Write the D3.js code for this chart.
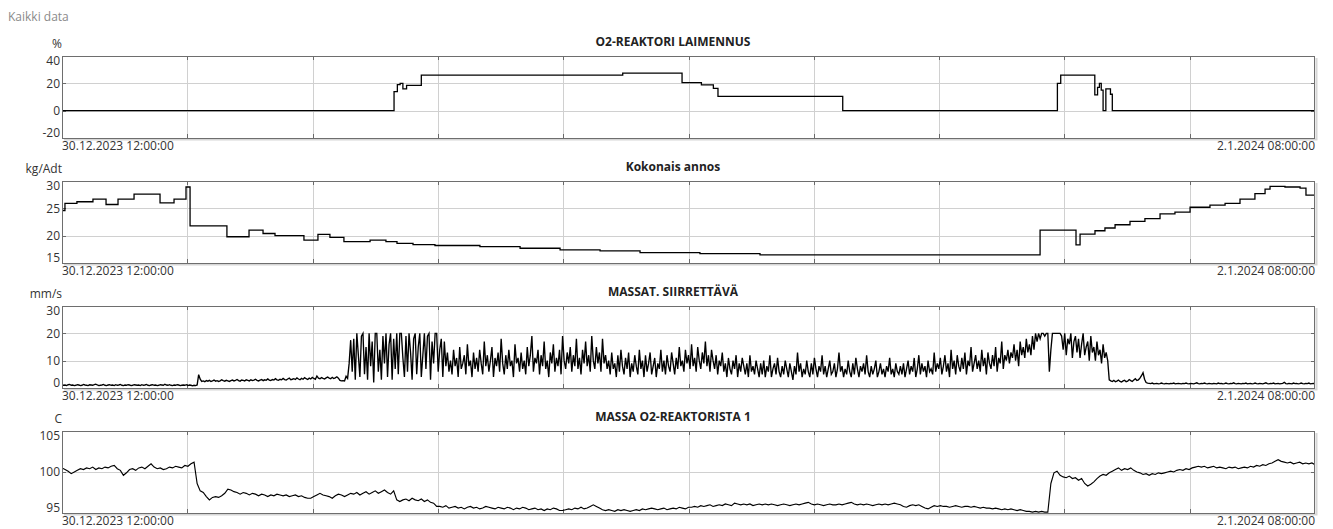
<!DOCTYPE html>
<html>
<head>
<meta charset="utf-8">
<script src="https://cdn.jsdelivr.net/npm/d3@7"></script>
<style>
  html, body { margin: 0; padding: 0; background: #fff; }
  svg { display: block; font-family: "Open Sans", "Noto Sans", sans-serif; }
</style>
</head>
<body>
<svg id="chart" width="1333" height="529"></svg>
<script>
// Time span shown by every panel
const startTime = new Date(2023, 11, 30, 12, 0, 0);
const endTime = new Date(2024, 0, 2, 8, 0, 0);
const gridDivisions = 10;

// Panel titles and units
const titles = ["O2-REAKTORI LAIMENNUS", "Kokonais annos", "MASSAT. SIIRRETTÄVÄ", "MASSA O2-REAKTORISTA 1"];
const units = ["%", "kg/Adt", "mm/s", "C"];

// Y axis ranges and tick labels
const yDomains = [[-20, 40], [15, 30], [0, 30], [95, 105]];
const yTicks = [[-20, 0, 20, 40], [15, 20, 25, 30], [0, 10, 20, 30], [95, 100, 105]];

// O2-reaktori laimennus (%), step changes: [hours from start, value]
const laimennus = [
  [0, 0], [18.02, 14], [18.2, 19], [18.35, 20], [18.5, 16], [18.7, 18.5], [19.5, 26],
  [30.43, 27.4], [33.65, 20.5], [34.7, 18.8], [35.35, 16.3], [35.6, 10.4], [42.37, 0],
  [54.02, 20], [54.2, 26], [56.05, 11.5], [56.2, 17], [56.3, 20], [56.4, 15], [56.5, 0],
  [56.65, 16], [56.9, 12], [57.0, 0], [68, 0]
];

// Kokonais annos (kg/Adt), step changes: [hours from start, value]
const annos = [
  [0, 24.6], [0.16, 25.9], [0.81, 26.2], [1.68, 26.7], [2.39, 25.7], [3.04, 26.7], [3.91, 27.6],
  [5.32, 26.0], [6.08, 26.7], [6.73, 28.9], [6.95, 21.8], [8.95, 19.8], [10.15, 21.0], [10.91, 20.4],
  [11.56, 20.0], [13.13, 19.2], [13.89, 20.25], [14.54, 19.7], [15.3, 18.9], [16.72, 19.2],
  [17.58, 18.9], [18.18, 18.6], [19.05, 18.35], [20.24, 18.2], [22.68, 18.0], [24.86, 17.7],
  [27.03, 17.4], [29.2, 17.2], [31.37, 16.9], [34.62, 16.7], [37.88, 16.5], [53.08, 21.0],
  [55.03, 18.3], [55.25, 20.3], [56.06, 20.9], [56.6, 21.4], [57.15, 22.0], [57.96, 22.6],
  [58.77, 23.1], [59.59, 24.0], [60.4, 24.3], [61.22, 25.2], [62.3, 25.6], [63.12, 25.9],
  [63.93, 26.7], [64.74, 27.7], [65.29, 28.5], [65.56, 29.0], [66.37, 28.9], [67.19, 28.7],
  [67.51, 27.4], [68, 27.4]
];

// Massat. siirrettävä (mm/s), one sample every 5 minutes from start
const siirrettavaStepMin = 5;
const siirrettava = [
  1.2,1.0,1.1,0.9,1.2,1.3,1.0,1.1,0.9,1.0,
  1.2,1.1,0.9,1.0,1.3,1.1,1.0,0.9,1.2,1.1,
  1.0,1.2,1.4,1.1,0.9,1.0,1.1,1.3,1.0,0.9,
  1.1,1.2,1.0,1.1,0.9,1.2,1.0,1.1,1.3,1.0,
  0.9,1.1,1.0,1.2,1.1,0.9,1.0,1.2,1.1,1.0,
  1.1,0.9,1.2,1.0,1.1,1.3,1.0,0.9,1.1,1.2,
  1.0,1.1,0.9,1.0,1.2,1.1,1.0,1.4,1.1,1.0,
  1.2,1.0,0.9,1.1,1.0,1.2,1.1,0.9,1.0,1.1,
  1.0,1.2,0.9,1.1,1.0,0.8,1.0,0.9,1.1,
  4.9,3.2,
  2.4,2.6,2.3,2.7,2.5,2.8,2.4,2.6,2.9,2.5,
  2.7,2.4,2.6,3.0,2.7,2.5,2.8,2.6,2.4,2.7,
  2.9,2.6,2.8,3.1,2.7,2.5,2.9,2.8,2.6,3.0,
  2.8,2.6,3.0,2.7,2.9,3.2,2.8,2.6,2.9,3.1,
  2.7,3.0,2.8,3.3,2.9,2.7,3.1,2.9,3.4,3.0,
  2.8,3.2,3.0,3.5,3.1,2.9,3.3,3.6,3.0,3.2,
  3.4,3.1,3.7,3.3,3.0,3.5,3.2,3.8,3.4,3.1,
  3.6,3.3,3.9,3.5,3.2,4.4,3.6,3.4,3.8,3.5,
  3.3,3.7,4.0,3.6,3.4,3.9,3.5,3.7,4.1,3.6,
  2.8,2.6,2.7,
  2.6,4.3,3.5,9.0,17.5,
  6,18,3,20,12,4,19,20,5,15,
  3,20,8,17,2,20,20,6,14,3,
  19,9,20,4,16,20,3,18,7,20,
  5,20,20,11,4,19,6,20,13,3,
  18,20,5,15,20,4,12,20,7,19,
  20,3,17,9,20,20,6,14,18,4,
  17,8,
  13,6,10,5,14,8,11,4,15,7,
  9,12,5,16,8,10,4,13,7,11,
  6,14,9,5,17,8,12,6,10,15,
  4,11,8,13,6,18,9,5,12,7,
  14,8,10,4,16,9,11,6,13,7,
  10,5,15,8,12,19,6,11,9,14,
  5,12,8,17,7,10,4,13,9,16,
  6,11,8,14,5,19,10,7,13,9,
  15,6,12,8,18,7,11,5,14,9,
  17,8,12,6,19,10,7,15,9,13,
  6,18,9,12,7,
  10,5,13,7,9,4,12,6,14,8,
  5,11,7,13,4,9,6,12,8,5,
  14,7,10,4,12,6,9,13,5,8,
  11,4,9,7,14,6,10,5,12,8,
  6,13,9,5,11,7,15,8,10,6,
  14,9,12,7,16,8,11,6,15,10,
  7,13,9,17,8,12,6,14,10,7,
  12,5,10,8,13,6,9,4,11,7,
  5,10,7,12,4,9,6,11,8,5,
  9,4,12,6,8,5,10,7,4,9,
  5,10,4,8,6,12,4,7,9,5,
  11,6,4,8,5,10,7,4,9,6,
  3,8,5,13,6,9,4,7,5,10,
  6,4,9,5,11,7,4,8,6,12,
  5,8,4,7,10,5,6,9,4,7,
  13,6,8,4,7,5,10,6,4,9,
  5,11,7,4,8,6,9,5,12,6,
  4,8,5,7,10,4,6,9,5,7,
  4,8,6,11,5,7,4,9,6,5,
  8,
  5,9,4,7,10,5,8,6,11,4,
  7,12,5,9,6,8,4,10,6,7,
  5,13,6,9,7,11,5,8,12,6,
  9,4,14,7,10,5,12,8,6,11,
  7,13,5,10,8,15,6,9,12,7,
  10,6,14,8,11,5,13,9,7,12,
  8,15,6,11,9,17,7,12,10,14,
  9,13,11,16,10,14,8,17,12,15,
  11,18,13,16,12,19,14,20,
  17,20,18,20,20,19,20,20,6,14,20,20,20,20,20,20,19,
  14,20,12,18,16,20,11,17,19,13,
  18,11,16,20,12,15,17,10,19,13,
  15,10,17,12,14,9,16,11,13,10,
  3.0,2.6,2.4,2.8,2.3,2.5,2.9,2.4,2.2,2.6,
  2.8,2.3,2.5,3.1,2.7,2.4,2.9,3.4,2.8,3.0,3.6,
  4.5,5.6,3.2,2.0,1.8,
  1.7,1.6,1.8,1.5,1.6,1.7,1.5,1.6,1.8,1.6,
  1.5,1.7,1.6,1.5,1.7,1.6,1.8,1.5,1.6,1.7,
  1.6,1.5,1.7,1.6,1.8,1.6,1.5,1.7,1.6,1.5,
  1.7,1.9,1.6,1.5,1.7,1.6,1.8,1.6,1.5,1.7,
  1.6,1.5,1.7,1.6,1.5,1.8,1.6,1.7,1.5,1.6,
  1.8,1.6,1.5,1.7,1.6,1.9,1.6,1.5,1.7,1.6,
  1.5,1.7,1.6,1.8,1.5,1.6,1.7,1.5,1.6,1.8,
  1.6,1.5,1.7,1.6,1.5,1.7,1.9,1.6,1.5,1.7,
  1.6,1.8,1.5,1.6,1.7,1.5,1.6,1.7,2.1,1.6,
  1.5,1.7,1.6,1.5,1.8,1.6,1.7,1.5,1.6,1.8,
  1.6,1.5,1.7,1.6,1.8,1.5,1.6,1.7,1.6
];

// Massa O2-reaktorista 1 (C), one sample every 10 minutes from start
const massaTempStepMin = 10;
const massaTemp = [
  100.5,100.3,100.1,99.8,100.0,100.2,100.4,100.3,100.5,100.4,
  100.6,100.3,100.5,100.4,100.6,100.5,100.7,100.8,100.4,100.2,
  99.6,99.9,100.3,100.4,100.2,100.5,100.6,100.4,100.7,101.0,
  100.6,100.4,100.5,100.3,100.4,100.6,100.5,100.7,100.6,100.5,
  100.8,100.7,101.0,101.2,
  98.6,97.7,97.5,97.0,96.6,96.9,
  97.0,96.9,97.1,97.4,97.9,
  97.8,97.6,97.5,97.3,97.5,97.4,97.2,97.4,97.3,97.1,
  97.3,97.2,97.0,97.2,97.1,97.3,97.2,97.1,97.2,97.0,
  97.1,97.2,97.0,97.1,96.9,96.8,
  96.8,97.0,97.2,97.4,97.2,97.1,97.0,96.8,97.1,97.3,
  97.2,97.0,97.2,97.4,97.3,97.5,97.2,97.4,97.6,97.3,
  97.5,97.7,97.4,97.6,97.8,97.5,97.3,97.7,96.6,96.4,
  96.6,96.7,96.5,96.8,96.6,96.5,96.7,96.4,96.6,96.3,96.2,95.8,
  95.8,95.7,95.9,95.6,95.7,95.8,95.6,95.7,95.5,95.7,
  95.8,95.6,95.7,95.5,95.6,95.8,95.7,95.6,95.5,95.7,
  95.6,95.5,95.7,95.6,95.4,95.6,95.5,95.7,95.6,95.4,
  95.5,95.6,95.4,95.5,95.3,95.5,95.4,95.6,95.5,95.3,
  95.3,
  95.4,95.5,95.4,95.6,95.5,95.7,95.5,95.6,95.8,96.0,95.8,95.6,
  95.4,95.3,95.4,95.3,95.2,95.4,95.3,95.4,95.3,95.2,95.3,95.4,95.3,
  95.5,95.4,95.5,95.6,95.5,95.4,95.5,95.6,95.4,95.5,95.6,95.5,95.7,95.6,95.5,95.7,
  95.7,95.8,95.7,95.9,95.8,95.9,96.0,95.8,95.9,96.0,
  95.9,96.1,96.0,95.9,96.2,96.1,96.0,96.1,96.0,96.1,
  95.9,96.0,96.1,96.0,96.1,96.0,96.1,96.0,95.9,
  96.0,96.1,96.0,95.9,96.0,96.1,96.0,96.1,96.2,96.3,
  96.1,96.0,96.1,96.0,95.9,96.0,96.1,96.0,96.0,96.1,
  96.0,96.1,96.2,96.3,96.1,96.0,96.1,96.0,96.1,96.0,
  95.9,96.0,96.1,96.0,96.1,96.0,96.1,96.2,96.1,96.0,
  95.8,95.7,95.9,96.0,95.9,96.0,95.8,95.6,95.5,95.7,
  95.9,95.8,
  95.9,95.8,95.8,95.7,95.8,95.9,95.8,95.7,95.8,95.8,95.7,95.8,95.7,95.6,95.7,95.6,95.6,
  95.5,95.6,95.5,95.4,95.5,95.4,95.5,95.4,95.3,95.4,95.3,
  95.2,95.2,95.1,95.2,95.1,95.2,95.1,95.1,
  98.6,99.9,100.1,99.6,
  99.4,99.3,99.5,99.2,99.3,99.0,99.2,
  98.6,98.3,98.5,98.8,
  99.2,99.5,99.7,99.6,99.9,100.1,100.3,100.5,100.2,100.4,100.3,100.5,
  100.2,100.0,99.9,99.7,99.8,99.6,99.8,99.7,99.9,99.8,99.9,
  100.0,100.1,100.0,100.2,100.3,100.2,100.4,100.3,100.5,100.6,100.7,
  100.6,100.7,100.5,100.6,100.7,100.5,100.6,100.5,100.4,100.6,100.5,100.6,100.4,100.5,100.6,
  100.5,100.7,100.6,100.8,100.7,100.9,100.8,101.0,101.1,101.3,
  101.5,101.3,101.2,101.1,101.2,101.0,101.1,101.2,101.0,101.1,101.0,101.1,100.9
];

// ---- Build per-panel series as {t, v} ----
const HOUR = 3600e3, MINUTE = 60e3;
const fromHours = arr => arr.map(([h, v]) => ({ t: new Date(+startTime + h * HOUR), v }));
const fromSamples = (arr, stepMin) => arr.map((v, i) => ({ t: new Date(+startTime + i * stepMin * MINUTE), v }));

const series = [
  { data: fromHours(laimennus), curve: d3.curveStepAfter, width: 1.3 },
  { data: fromHours(annos), curve: d3.curveStepAfter, width: 1.3 },
  { data: fromSamples(siirrettava, siirrettavaStepMin), curve: d3.curveLinear, width: 1.35 },
  { data: fromSamples(massaTemp, massaTempStepMin), curve: d3.curveLinear, width: 1.15 }
];

// ---- Layout ----
const plotLeft = 62, plotRight = 1315;
const firstTop = 56, panelStep = 125, plotH = 82;
const plotW = plotRight - plotLeft;

const svg = d3.select("#chart");

svg.append("text")
  .attr("x", 8).attr("y", 21)
  .attr("font-size", 12).attr("fill", "#8a8a8a")
  .text("Kaikki data");

const x = d3.scaleTime().domain([startTime, endTime]).range([plotLeft, plotRight]);
const gridTimes = d3.range(1, gridDivisions).map(k => new Date(+startTime + k * (endTime - startTime) / gridDivisions));
const fmt = d3.timeFormat("%-d.%-m.%Y %H:%M:%S");

const defs = svg.append("defs");

titles.forEach((title, k) => {
  const top = firstTop + k * panelStep;
  const bottom = top + plotH;
  const y = d3.scaleLinear().domain(yDomains[k]).range([bottom, top]);
  const innerTicks = yTicks[k].filter(v => v > yDomains[k][0] && v < yDomains[k][1]);
  const g = svg.append("g");

  // soft shadow along right and bottom edges of the frame
  g.append("path")
    .attr("d", `M${plotRight + 1.5},${top + 2} V${bottom + 1.5} H${plotLeft + 2}`)
    .attr("fill", "none").attr("stroke", "#d6d6d6").attr("stroke-width", 2);

  g.append("rect")
    .attr("x", plotLeft).attr("y", top).attr("width", plotW).attr("height", plotH)
    .attr("fill", "#fff");

  // vertical grid
  const xg = g.append("g").attr("transform", `translate(0,${bottom})`)
    .call(d3.axisBottom(x).tickValues(gridTimes).tickSize(-plotH).tickFormat(""));
  xg.select(".domain").remove();
  xg.selectAll("line").attr("stroke", "#d0d0d0").attr("shape-rendering", "crispEdges");

  // horizontal grid
  const yg = g.append("g").attr("transform", `translate(${plotLeft},0)`)
    .call(d3.axisLeft(y).tickValues(innerTicks).tickSize(-plotW).tickFormat(""));
  yg.select(".domain").remove();
  yg.selectAll("line").attr("stroke", "#d0d0d0").attr("shape-rendering", "crispEdges");

  // short dark tick marks on all four edges
  const tickMarks = [
    [d3.axisBottom(x).tickValues(gridTimes).tickSize(-4).tickFormat(""), `translate(0,${bottom})`],
    [d3.axisTop(x).tickValues(gridTimes).tickSize(-4).tickFormat(""), `translate(0,${top})`],
    [d3.axisLeft(y).tickValues(innerTicks).tickSize(-4).tickFormat(""), `translate(${plotLeft},0)`],
    [d3.axisRight(y).tickValues(innerTicks).tickSize(-4).tickFormat(""), `translate(${plotRight},0)`]
  ];
  tickMarks.forEach(([ax, tr]) => {
    const tg = g.append("g").attr("transform", tr).call(ax);
    tg.select(".domain").remove();
    tg.selectAll("line").attr("stroke", "#6a6a6a").attr("shape-rendering", "crispEdges");
  });

  // series line, clipped to the plot area
  const clipId = "clip" + k;
  defs.append("clipPath").attr("id", clipId)
    .append("rect").attr("x", plotLeft).attr("y", top).attr("width", plotW).attr("height", plotH);

  const line = d3.line().x(d => x(d.t)).y(d => y(d.v)).curve(series[k].curve);
  g.append("path")
    .datum(series[k].data)
    .attr("clip-path", `url(#${clipId})`)
    .attr("fill", "none")
    .attr("stroke", "#000")
    .attr("stroke-width", series[k].width)
    .attr("stroke-linejoin", "miter")
    .attr("d", line);

  // frame
  g.append("rect")
    .attr("x", plotLeft + 0.5).attr("y", top + 0.5).attr("width", plotW - 1).attr("height", plotH)
    .attr("fill", "none").attr("stroke", "#6e6e6e").attr("stroke-width", 1)
    .attr("shape-rendering", "crispEdges");

  // y tick labels, end labels kept inside the frame height
  g.selectAll("text.ytick")
    .data(yTicks[k])
    .join("text")
    .attr("class", "ytick")
    .attr("x", plotLeft - 2)
    .attr("y", v => Math.min(Math.max(y(v), top + 5), bottom - 5))
    .attr("dy", "0.35em")
    .attr("text-anchor", "end")
    .attr("font-size", 12)
    .attr("fill", "#333")
    .text(d => d);

  // unit label
  g.append("text")
    .attr("x", plotLeft).attr("y", top - 12.5).attr("dy", "0.35em")
    .attr("text-anchor", "end").attr("font-size", 12).attr("fill", "#333")
    .text(units[k]);

  // panel title
  g.append("text")
    .attr("x", 673).attr("y", top - 14).attr("dy", "0.35em")
    .attr("text-anchor", "middle").attr("font-size", 12).attr("font-weight", "bold")
    .attr("fill", "#222")
    .text(title);

  // start and end timestamps
  g.append("text")
    .attr("x", x(startTime)).attr("y", bottom + 12)
    .attr("text-anchor", "start").attr("font-size", 12).attr("fill", "#333")
    .text(fmt(startTime));
  g.append("text")
    .attr("x", x(endTime)).attr("y", bottom + 12)
    .attr("text-anchor", "end").attr("font-size", 12).attr("fill", "#333")
    .text(fmt(endTime));
});
</script>
</body>
</html>
